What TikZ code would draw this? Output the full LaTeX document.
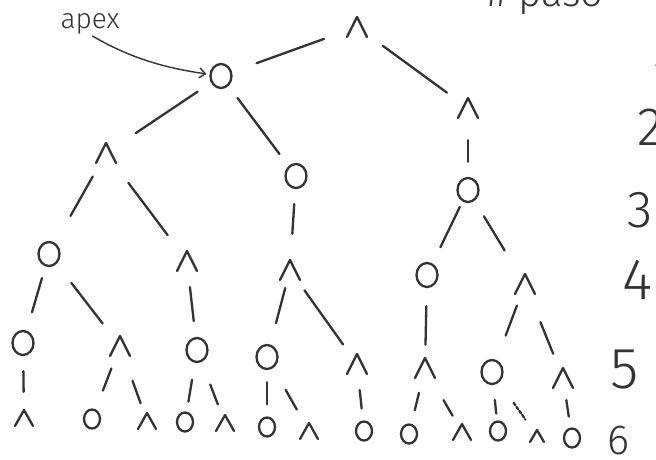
\documentclass[tikz,border=0pt]{standalone}
\usepackage{fontspec}
\setmainfont{Fira Sans Light}
\usetikzlibrary{shapes.geometric,arrows.meta}
\definecolor{inkc}{HTML}{333333}
\begin{document}
\begin{tikzpicture}[x=1pt,y=-1pt,
  ink/.style={draw=inkc, line width=2.3pt, line cap=round, line join=round},
  andA/.style={rectangle, minimum width=24pt, minimum height=24pt, inner sep=0pt,
    path picture={\draw[ink] ([shift={(-10pt,-10pt)}]path picture bounding box.center) -- ++(10pt,20pt) -- ++(10pt,-20pt);}},
  andB/.style={rectangle, minimum width=20pt, minimum height=20pt, inner sep=0pt,
    path picture={\draw[ink] ([shift={(-9pt,-8pt)}]path picture bounding box.center) -- ++(9pt,16pt) -- ++(9pt,-16pt);}},
  andC/.style={rectangle, minimum width=16pt, minimum height=16pt, inner sep=0pt,
    path picture={\draw[ink] ([shift={(-7pt,-6pt)}]path picture bounding box.center) -- ++(7pt,12pt) -- ++(7pt,-12pt);}},
  orA/.style={ellipse, ink, minimum width=21pt, minimum height=24pt, inner sep=0pt},
  orB/.style={ellipse, ink, minimum width=16pt, minimum height=19pt, inner sep=0pt},
  edge/.style={ink},
  sh/.style 2 args={shorten <=#1pt, shorten >=#2pt},
  num/.style={text=inkc, font=\fontsize{#1}{#1}\selectfont, inner sep=0pt},
]
\useasboundingbox (0,0) rectangle (656,459);
\clip (0,0) rectangle (656,459);

% level 0-3
\node[andA] (r) at (357,27) {};
\node[orA]  (a) at (221,76) {};
\node[andA] (b) at (468,108) {};
\node[andA] (c) at (106,153) {};
\node[orA]  (d) at (296,176) {};
\node[orA]  (e) at (468,190) {};
\node[orA]  (f) at (49,254) {};
\node[andA] (g) at (187,261) {};
\node[andA] (h) at (290,270) {};
\node[orA]  (i) at (427,275) {};
\node[andA] (j) at (525,284) {};
% level 4
\node[orA]  (k) at (23,343) {};
\node[andA] (l) at (120,346) {};
\node[orA]  (m) at (197,350) {};
\node[orA]  (n) at (267,357) {};
\node[andA] (o) at (357,364) {};
\node[andA] (p) at (425,368) {};
\node[orA]  (q) at (492,372) {};
\node[andA] (s) at (563,378) {};
% leaves
\node[andB] (k1) at (24,418) {};
\node[orB]  (l1) at (92,419) {};
\node[andB] (l2) at (147,421) {};
\node[orB]  (m1) at (185,422) {};
\node[andB] (m2) at (225,423) {};
\node[orB]  (n1) at (267,427) {};
\node[andB] (n2) at (309,431) {};
\node[orB]  (o1) at (364,431) {};
\node[orB]  (p1) at (409,434) {};
\node[andB] (p2) at (462,432) {};
\node[orB]  (q1) at (498,431) {};
\node[andC] (q2) at (537,436) {};
\node[orB]  (s1) at (572,438) {};

% edges
\draw[edge, sh={22}{26}] (r) -- (a);
\draw[edge, sh={17}{11}] (r) -- (b);
\draw[edge, sh={16}{21}] (a) -- (c);
\draw[edge, sh={15}{15}] (a) -- (d);
\draw[edge, sh={20}{15}] (b) -- (e);
\draw[edge, sh={13}{31}] (c) -- (f);
\draw[edge, sh={22}{17}] (c) -- (g);
\draw[edge, sh={15}{24}] (d) -- (h);
\draw[edge, sh={6}{18}]  (e) -- (i);
\draw[edge, sh={18}{25}] (e) -- (j);
\draw[edge, sh={12}{19}] (f) -- (k);
\draw[edge, sh={24}{13}] (f) -- (l);
\draw[edge, sh={14}{16}] (g) -- (m);
\draw[edge, sh={6}{22}]  (h) -- (n);
\draw[edge, sh={10}{9}]  (h) -- (o);
\draw[edge, sh={18}{11}] (i) -- (p);
\draw[edge, sh={10}{26}] (j) -- (q);
\draw[edge, sh={28}{13}] (j) -- (s);
\draw[edge, sh={15}{16}] (k) -- (k1);
\draw[edge, sh={11}{20}] (l) -- (l1);
\draw[edge, sh={24}{8}]  (l) -- (l2);
\draw[edge, sh={17}{10}] (m) -- (m1);
\draw[edge, sh={24}{9}]  (m) -- (m2);
\draw[edge, sh={12}{12}] (n) -- (n1);
\draw[edge, sh={25}{13}] (n) -- (n2);
\draw[edge, sh={14}{12}] (o) -- (o1);
\draw[edge, sh={13}{14}] (p) -- (p1);
\draw[edge, sh={23}{7}]  (p) -- (p2);
\draw[edge, sh={15}{7}]  (q) -- (q1);
\draw[edge, sh={25}{10}, densely dashed] (q) -- (q2);
\draw[edge, sh={10}{11}] (s) -- (s1);

% labels
\node[num=40, anchor=base west] (title) at (487,6) {\# paso};
\node[num=28] (apex) at (90,24) {apex};
\draw[ink, line width=1.4pt, shorten <=3pt, shorten >=3pt, -{Straight Barb[length=6pt,width=10pt]}]
  (apex.south) .. controls (130,58) and (165,68) .. (a);

\node[num=50] (lv1) at (664,76) {1};
\node[num=54] (lv2) at (650,127) {2};
\node[num=52] (lv3) at (640,210) {3};
\node[num=58] (lv4) at (638,280) {4};
\node[num=58] (lv5) at (625,370) {5};
\node[num=42] (lv6) at (618,441) {6};
\end{tikzpicture}
\end{document}
